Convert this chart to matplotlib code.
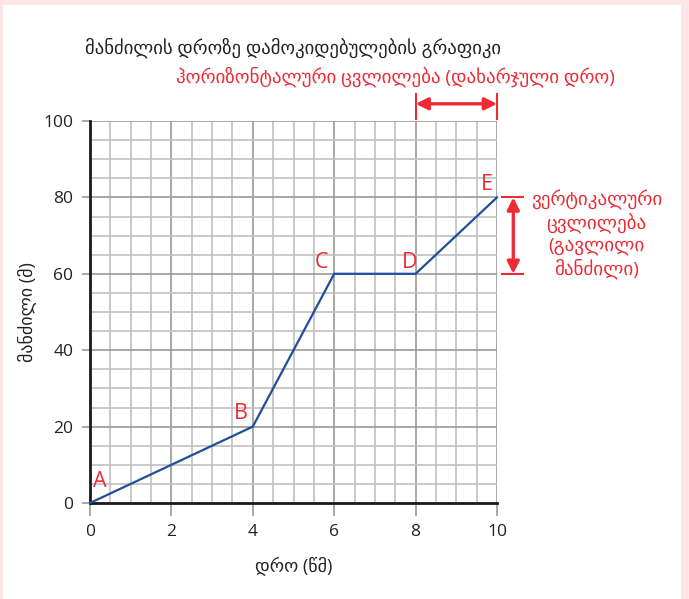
import numpy as np
import matplotlib.pyplot as plt
from matplotlib.patches import Rectangle

plt.rcParams['font.family'] = ['Open Sans', 'DejaVu Sans']

# data
time_s = [0, 4, 6, 8, 10]
distance_m = [0, 20, 60, 60, 80]
point_names = ["A", "B", "C", "D", "E"]

x_ticks = [0, 2, 4, 6, 8, 10]
y_ticks = [0, 20, 40, 60, 80, 100]

title = "მანძილის დროზე დამოკიდებულების გრაფიკი"
horiz_note = "ჰორიზონტალური ცვლილება (დახარჯული დრო)"
vert_note = "ვერტიკალური\nცვლილება\n(გავლილი\nმანძილი)"
x_label = "დრო (წმ)"
y_label = "მანძილი (მ)"

RED = "#ee2a34"
BLUE = "#1d4f9a"

fig = plt.figure(figsize=(6.89, 5.99), dpi=100)
fig.patch.set_facecolor("#fce6e6")
# white panel
fig.patches.append(Rectangle((3 / 689, 0), 678 / 689, 594 / 599,
                             transform=fig.transFigure, facecolor="white",
                             edgecolor="none", zorder=-10))

ax = fig.add_axes([90 / 689, 96 / 599, 407 / 689, 382 / 599])
ax.set_xlim(0, 10)
ax.set_ylim(0, 100)
ax.set_facecolor("white")

# squared paper grid
for gx in np.arange(0.5, 10.01, 0.5):
    c = "#9a9a9a" if gx % 2 == 0 else "#c0c0c0"
    ax.axvline(gx, color=c, lw=1.2, zorder=1)
for gy in np.arange(5, 100.1, 5):
    c = "#9a9a9a" if gy % 20 == 0 else "#c0c0c0"
    ax.axhline(gy, color=c, lw=1.2, zorder=1)

for s in ["top", "right"]:
    ax.spines[s].set_visible(False)
for s in ["left", "bottom"]:
    ax.spines[s].set_linewidth(2)
    ax.spines[s].set_color("#1a1a1a")
    ax.spines[s].set_zorder(3)

ax.set_xticks(x_ticks)
ax.set_yticks(y_ticks)
ax.tick_params(axis="x", length=9, width=1.2, color="#9a9a9a",
               labelsize=12.5, labelcolor="#222222", pad=6)
ax.tick_params(axis="y", length=6, width=1.2, color="#9a9a9a",
               labelsize=12.5, labelcolor="#222222", pad=6)

ax.plot(time_s, distance_m, color=BLUE, lw=1.6, zorder=4, clip_on=False)

label_offsets = [(0.25, 5.5), (-0.3, 3.5), (-0.3, 3.0), (-0.15, 3.0), (-0.25, 3.5)]
for name, x, y, (dx, dy) in zip(point_names, time_s, distance_m, label_offsets):
    ax.text(x + dx, y + dy, name, color=RED, fontsize=15.5,
            ha="center", va="center", zorder=5)

ax.set_xlabel(x_label, fontsize=13, color="#222222", labelpad=12)
ax.set_ylabel(y_label, fontsize=13, color="#222222", labelpad=5)

fig.text(85 / 689, 1 - 48 / 599, title, fontsize=13.4, color="#222222",
         ha="left", va="center")
fig.text(615 / 689, 1 - 77 / 599, horiz_note, fontsize=13.6, color=RED,
         ha="right", va="center")

# horizontal change marker (time 8 -> 10)
arrow_kw = dict(arrowstyle="<|-|>", color=RED, lw=2.4, mutation_scale=18,
                shrinkA=0, shrinkB=0)
ax.annotate("", xy=(time_s[3], 104.5), xytext=(time_s[4], 104.5),
            xycoords="data", arrowprops=arrow_kw, annotation_clip=False)
for x in time_s[3:5]:
    ax.plot([x, x], [100.5, 107], color=RED, lw=1.5, clip_on=False)

# vertical change marker (distance 60 -> 80)
ax.annotate("", xy=(10.4, distance_m[3]), xytext=(10.4, distance_m[4]),
            arrowprops=arrow_kw, annotation_clip=False)
for y in distance_m[3:5]:
    ax.plot([10.13, 10.65], [y, y], color=RED, lw=1.5, clip_on=False)
ax.text(12.45, 70.3, vert_note, fontsize=13.7, color=RED, ha="center",
        va="center", linespacing=1.2)

fig.savefig("out.png", dpi=100)
